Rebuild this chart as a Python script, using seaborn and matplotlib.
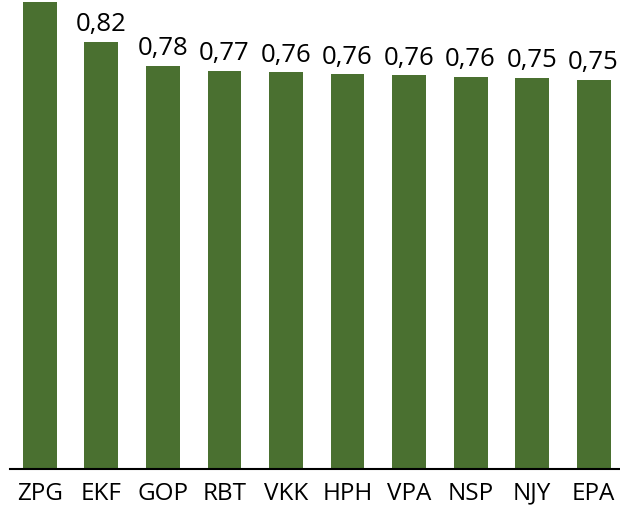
import matplotlib
matplotlib.use("Agg")
import matplotlib.pyplot as plt
import seaborn as sns
import pandas as pd

categories = ["ZPG", "EKF", "GOP", "RBT", "VKK", "HPH", "VPA", "NSP", "NJY", "EPA"]
values = [0.900, 0.823, 0.776, 0.767, 0.764, 0.760, 0.758, 0.756, 0.753, 0.749]

sns.set_theme(style="white")
plt.rcParams["font.family"] = ["Open Sans", "DejaVu Sans"]

df = pd.DataFrame({"cat": categories, "val": values})

fig = plt.figure(figsize=(6.2, 5.11), dpi=100)
ax = fig.add_axes([9.5 / 620, 42.5 / 511, 610.5 / 620, 468.5 / 511])

sns.barplot(data=df, x="cat", y="val", color="#4A7030", saturation=1,
            width=0.552, ax=ax, edgecolor="none")

ax.set_xlim(-0.495, 9.43)
ax.set_ylim(0, 0.9036)

# the first bar's label lies above the visible area in the reference
labels = [""] + [f"{v:.2f}".replace(".", ",") for v in values[1:]]
ax.bar_label(ax.containers[0], labels=labels, padding=3.4, fontsize=18.5,
             color="black")

for s in ["top", "left", "right"]:
    ax.spines[s].set_visible(False)
ax.spines["bottom"].set_color("black")
ax.spines["bottom"].set_linewidth(1.5)
ax.set_yticks([])
ax.set_xlabel("")
ax.set_ylabel("")
ax.tick_params(axis="x", length=0, pad=9.5, labelsize=17.5, labelcolor="black")

fig.savefig("out.png", dpi=100)
